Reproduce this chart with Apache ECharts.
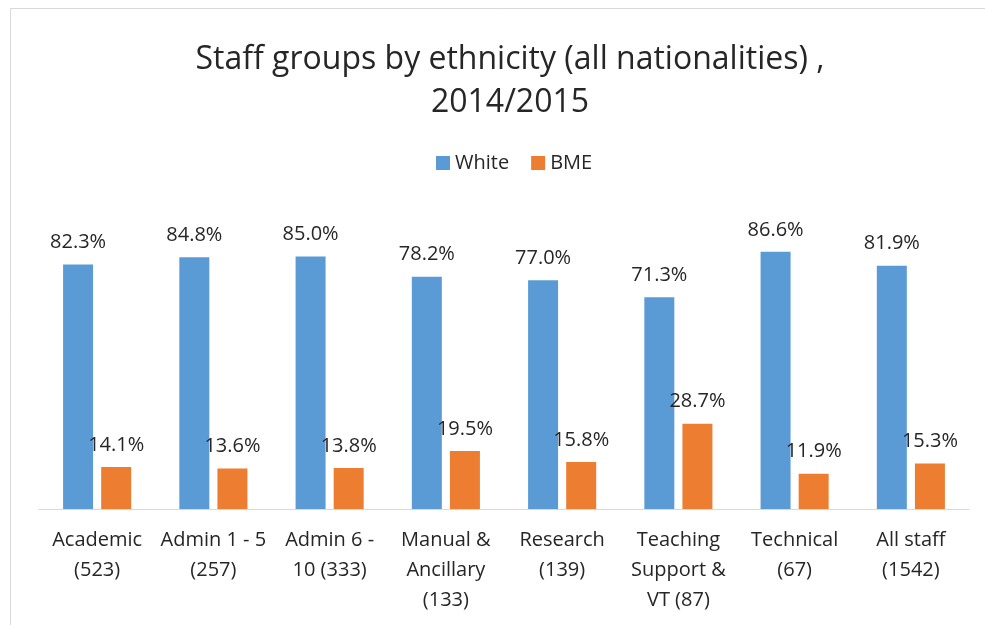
<!DOCTYPE html>
<html>
<head>
<meta charset="utf-8">
<script src="https://cdn.jsdelivr.net/npm/echarts@6/dist/echarts.min.js"></script>
<style>
  html, body { margin: 0; padding: 0; background: #fff; }
  #chart { width: 985px; height: 625px; }
</style>
</head>
<body>
<div id="chart"></div>
<script>
// staff groups, with headcount
const categories = [
  'Academic\n(523)',
  'Admin 1 - 5\n(257)',
  'Admin 6 -\n10 (333)',
  'Manual &\nAncillary\n(133)',
  'Research\n(139)',
  'Teaching\nSupport &\nVT (87)',
  'Technical\n(67)',
  'All staff\n(1542)'
]
const whiteValues = [82.3, 84.8, 85.0, 78.2, 77.0, 71.3, 86.6, 81.9]
const bmeValues = [14.1, 13.6, 13.8, 19.5, 15.8, 28.7, 11.9, 15.3]

const font = 'Open Sans'
const chart = echarts.init(document.getElementById('chart'))

const labelStyle = {
  show: true,
  position: 'top',
  distance: 12,
  fontFamily: font,
  fontSize: 20,
  color: '#262626',
  formatter: p => p.value.toFixed(1) + '%'
}

chart.setOption({
  animation: false,
  title: {
    text: 'Staff groups by ethnicity (all nationalities) ,\n2014/2015',
    left: 505,
    textAlign: 'center',
    top: 33,
    textStyle: {
      fontFamily: font,
      fontSize: 32,
      fontWeight: 'normal',
      color: '#262626',
      lineHeight: 43
    }
  },
  legend: {
    top: 148,
    left: 431,
    itemWidth: 14,
    itemHeight: 14,
    itemGap: 22,
    icon: 'rect',
    textStyle: { fontFamily: font, fontSize: 20, color: '#262626' },
    data: ['White', 'BME']
  },
  graphic: [{
    type: 'polyline',
    shape: { points: [[10.5, 640], [10.5, 8.5], [1000, 8.5]] },
    style: { stroke: '#d9d9d9', lineWidth: 1, fill: null },
    silent: true
  }],
  grid: { left: 39, right: 16, top: 212, bottom: 116, containLabel: false },
  xAxis: {
    type: 'category',
    data: categories,
    axisLine: { lineStyle: { color: '#d9d9d9', width: 1 } },
    axisTick: { show: false },
    axisLabel: {
      interval: 0,
      margin: 16,
      fontFamily: font,
      fontSize: 20,
      lineHeight: 30,
      color: '#262626'
    }
  },
  yAxis: {
    type: 'value',
    min: 0,
    max: 100,
    show: false,
    splitLine: { show: false }
  },
  series: [
    {
      name: 'White',
      type: 'bar',
      data: whiteValues,
      barWidth: 30,
      barGap: '27%',
      itemStyle: { color: '#5b9bd5' },
      label: labelStyle
    },
    {
      name: 'BME',
      type: 'bar',
      data: bmeValues,
      barWidth: 30,
      itemStyle: { color: '#ed7d31' },
      label: labelStyle
    }
  ]
})
</script>
</body>
</html>
